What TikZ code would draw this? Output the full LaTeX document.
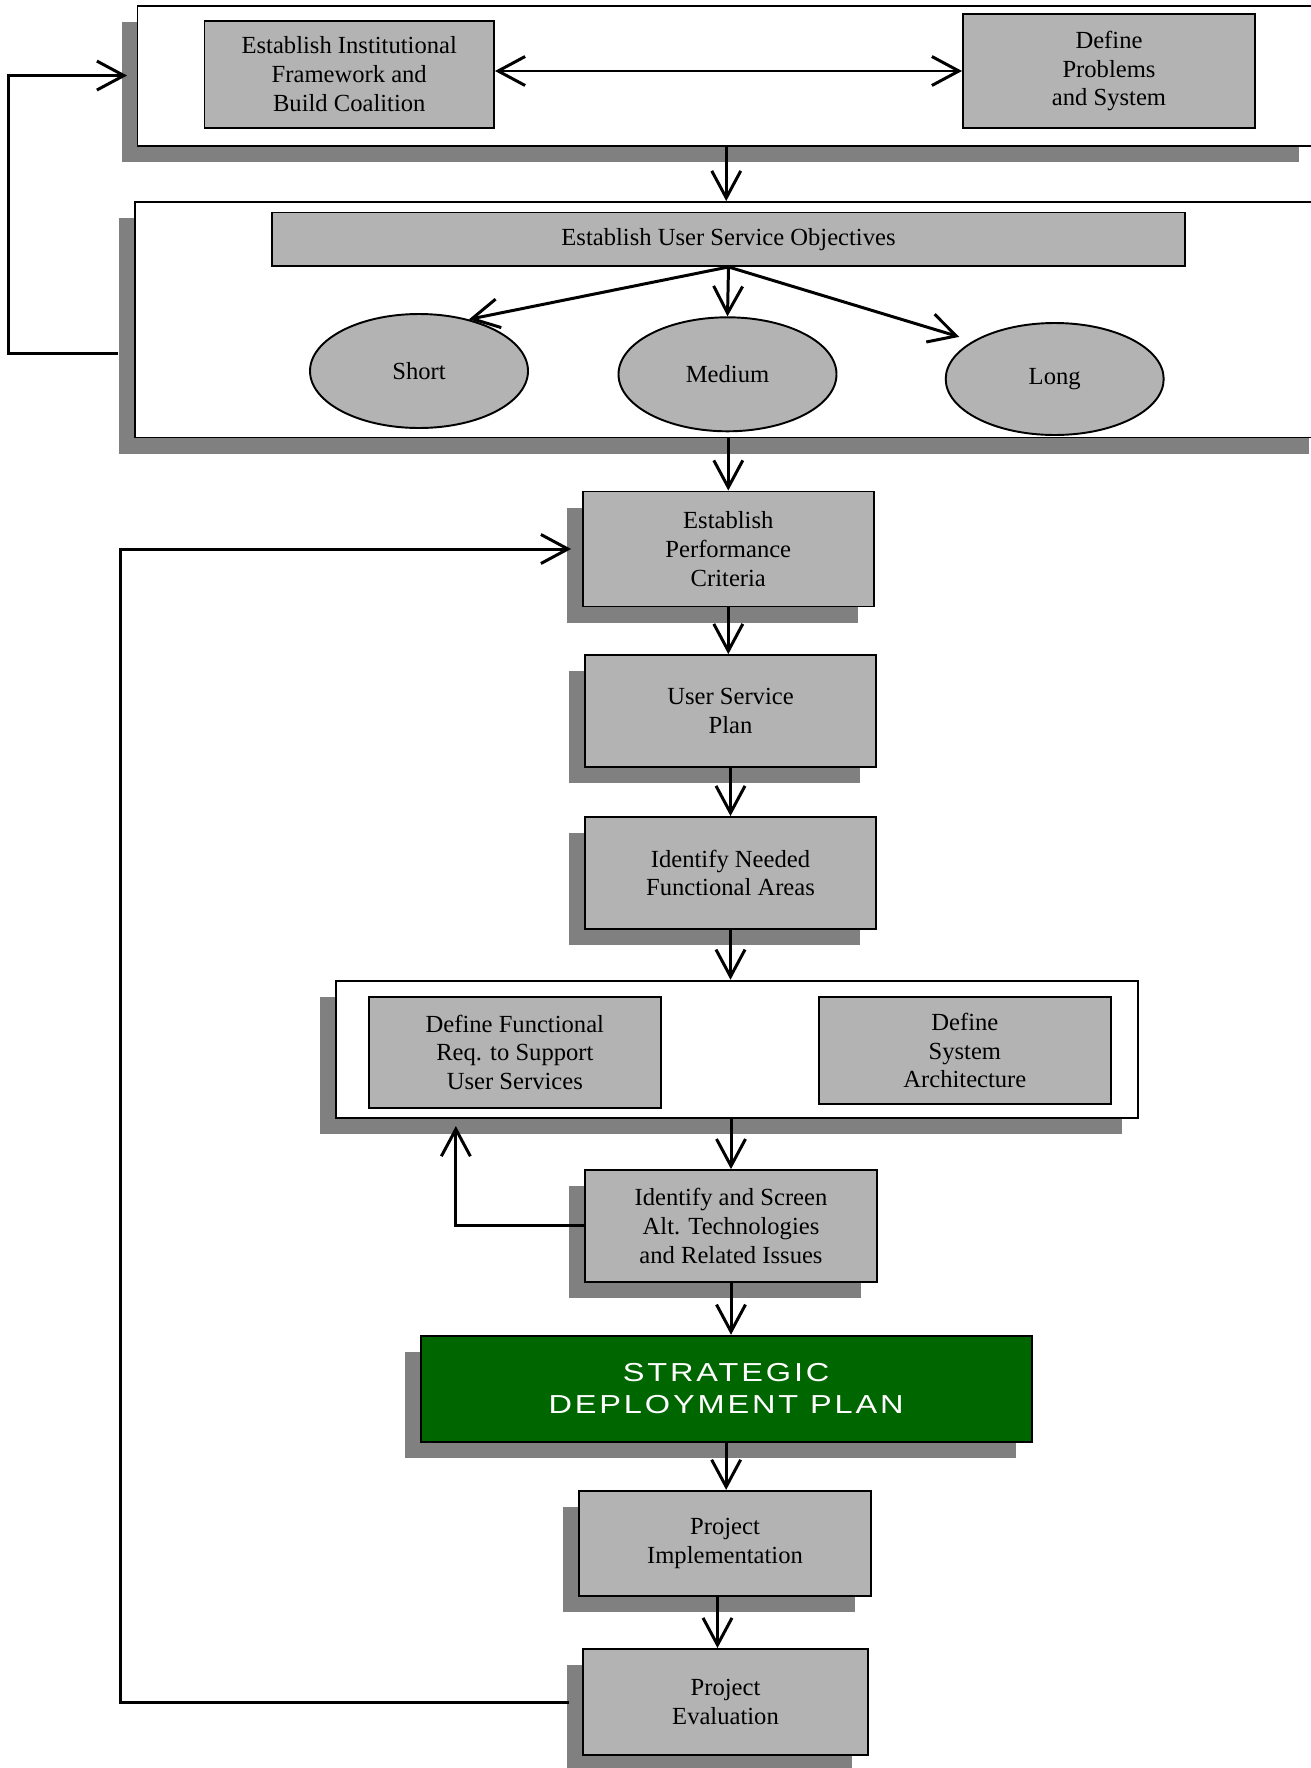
\documentclass[tikz,border=0pt]{standalone}
\usepackage{fontspec}
\setmainfont{Liberation Serif}
\newfontfamily\planofont[FakeStretch=1.25,LetterSpace=11]{Liberation Sans}
\usepackage{tikz,xcolor}
\usetikzlibrary{calc}
\usetikzlibrary{positioning}
\usetikzlibrary{shapes.geometric,shadows,arrows.meta}

\definecolor{cinza}{RGB}{179,179,179}
\definecolor{cinzasombra}{RGB}{128,128,128}
\definecolor{verdeplano}{RGB}{0,102,0}

\begin{document}
\begin{tikzpicture}[
  every node/.style={font=\fontsize{14}{16.4}\selectfont},
  comsombra/.style={drop shadow={shadow xshift=-0.32cm, shadow yshift=-0.32cm, fill=cinzasombra, opacity=1}},
  moldura/.style={draw, line width=1.1pt, fill=white, inner sep=0pt, comsombra},
  interna/.style={draw, line width=1.1pt, fill=cinza, align=center, inner sep=0pt},
  caixa/.style={interna, comsombra},
  elipse/.style={ellipse, draw, line width=1.1pt, fill=cinza, inner sep=0pt, minimum width=4.36cm, minimum height=2.28cm},
  seta/.style={line width=1.7pt, -{Straight Barb[length=0.54cm,width=0.58cm]}},
  setadupla/.style={line width=1.7pt, {Straight Barb[length=0.54cm,width=0.58cm]}-{Straight Barb[length=0.54cm,width=0.58cm]}}
]
    \useasboundingbox (0,0) rectangle (26.22,-35.36);
    \clip (0,0) rectangle (26.22,-35.36);

    % Bloco do topo
    \node[moldura, minimum width=23.55cm, minimum height=2.8cm] (bloco1) at (14.525,-1.511) {};
    \node[interna, minimum width=5.79cm, minimum height=2.15cm] (inst) at (6.985,-1.487)
        {Establish Institutional\\Framework and\\Build Coalition};
    \node[interna, minimum width=5.84cm, minimum height=2.28cm] (probl) at (22.18,-1.42)
        {Define\\Problems\\and System};

    % Bloco dos objetivos
    \node[moldura, minimum width=23.8cm, minimum height=4.71cm] (bloco2) at (14.6,-6.395) {};
    \node[interna, minimum width=18.26cm, minimum height=1.07cm] (objetivos) at (14.57,-4.785)
        {Establish User Service Objectives};
    \node[elipse] (curto) at (8.38,-7.42) {Short};
    \node[elipse] (medio) at (14.55,-7.486) {Medium};
    \node[elipse, minimum height=2.24cm] (longo) at (21.094,-7.58) {Long};

    % Coluna central
    \node[caixa, minimum width=5.81cm, minimum height=2.3cm] (criterios) at (14.566,-10.98)
        {Establish\\Performance\\Criteria};
    \node[caixa, minimum width=5.82cm, minimum height=2.23cm] (plano) at (14.61,-14.216)
        {User Service\\Plan};
    \node[caixa, minimum width=5.82cm, minimum height=2.24cm] (areas) at (14.61,-17.46)
        {Identify Needed\\Functional Areas};

    \node[moldura, minimum width=16.04cm, minimum height=2.74cm] (bloco3) at (14.749,-20.984) {};
    \node[interna, minimum width=5.85cm, minimum height=2.21cm] (requisitos) at (10.297,-21.047)
        {Define Functional\\Req. to Support\\User Services};
    \node[interna, minimum width=5.83cm, minimum height=2.14cm] (arquitetura) at (19.297,-21.01)
        {Define\\System\\Architecture};

    \node[caixa, minimum width=5.84cm, minimum height=2.23cm] (triagem) at (14.62,-24.517)
        {Identify and Screen\\Alt. Technologies\\and Related Issues};
    \node[caixa, fill=verdeplano, text=white, minimum width=12.22cm, minimum height=2.12cm,
        font=\planofont\fontsize{14.8}{18}\selectfont] (estrategico) at (14.523,-27.774)
        {STRATEGIC\\DEPLOYMENT PLAN};
    \node[caixa, minimum width=5.84cm, minimum height=2.1cm] (implantacao) at (14.5,-30.867)
        {Project\\Implementation};
    \node[caixa, minimum width=5.7cm, minimum height=2.12cm] (avaliacao) at (14.51,-34.04)
        {Project\\Evaluation};

    % Setas
    \draw[setadupla] (inst.east |- probl.west) -- (probl.west);
    \draw[seta] (bloco1.south) -- (bloco1.south |- bloco2.north);
    \draw[seta] (objetivos.south) -- (curto.46);
    \draw[seta] (objetivos.south) -- (medio.north);
    \draw[seta] (objetivos.south) -- ([xshift=-0.24cm,yshift=0.1cm]longo.156);
    \draw[seta] (criterios.north |- bloco2.south) -- (criterios.north);
    \draw[seta] (criterios.south) -- (criterios.south |- plano.north);
    \draw[seta] (plano.south) -- (areas.north);
    \draw[seta] (areas.south) -- (areas.south |- bloco3.north);
    \draw[seta] (triagem.north |- bloco3.south) -- (triagem.north);
    \draw[seta] (triagem.south) -- (triagem.south |- estrategico.north);
    \draw[seta] (estrategico.south) -- (estrategico.south |- implantacao.north);
    \draw[seta] ([xshift=-0.15cm]implantacao.south) -- ([xshift=-0.15cm]implantacao.south |- avaliacao.north);

    % Retornos
    \draw[seta] ([xshift=-0.32cm,yshift=-0.68cm]bloco2.west) -- ++(-2.2,0) |- ([xshift=-0.19cm]bloco1.west);
    \draw[seta] (triagem.west) -| ([xshift=-1.18cm,yshift=-0.35cm]requisitos.south);
    \draw[seta] ([xshift=-0.26cm]avaliacao.west) -- ++(-8.98,0) |- ([xshift=-0.22cm]criterios.west);
\end{tikzpicture}
\end{document}
